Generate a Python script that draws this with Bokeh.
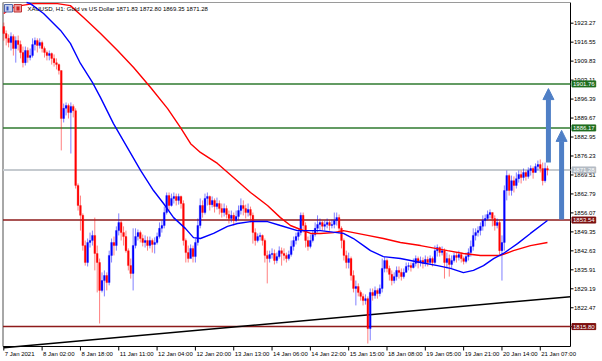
from bokeh.plotting import figure
from bokeh.models import Range1d, Label, Arrow, NormalHead, ColumnDataSource
from bokeh.core.properties import value
from bokeh.embed import file_html
from bokeh.resources import INLINE

# ---------------- data ----------------
first_open = 1922.1
closes = [
    1919.6, 1917.9, 1916.4, 1918.6, 1914.3, 1917.1, 1915.7, 1912.9, 1909.3, 1913.6,
    1911.1, 1911.8, 1915.7, 1917.1, 1915.4, 1916.4, 1914.3, 1912.9, 1911.8, 1912.5,
    1910.8, 1909.3, 1908.6, 1906.5, 1889.5, 1893.1, 1894.1, 1891.6, 1893.8, 1892.3,
    1865.8, 1858.7, 1855.2, 1844.5, 1838.5, 1845.6, 1846.3, 1848.1, 1841.7, 1838.5,
    1828.6, 1832.1, 1833.9, 1831.4, 1841.0, 1845.6, 1844.5, 1849.8, 1852.7, 1849.1,
    1847.7, 1842.7, 1837.4, 1834.6, 1844.5, 1847.7, 1849.1, 1847.0, 1845.6, 1846.3,
    1844.5, 1846.3, 1844.9, 1845.6, 1847.7, 1850.6, 1851.6, 1856.2, 1862.2, 1858.7,
    1861.2, 1861.9, 1860.5, 1861.9, 1859.4, 1846.3, 1842.0, 1839.9, 1843.5, 1840.6,
    1845.6, 1851.6, 1858.7, 1856.2, 1861.2, 1861.9, 1859.0, 1860.5, 1858.3, 1859.4,
    1857.6, 1856.2, 1857.6, 1855.5, 1854.1, 1855.2, 1853.4, 1854.8, 1856.9, 1858.7,
    1857.6, 1856.2, 1857.3, 1855.2, 1849.1, 1846.3, 1847.7, 1848.1, 1846.3, 1841.0,
    1839.9, 1841.3, 1841.7, 1839.2, 1840.6, 1842.7, 1841.7, 1841.0, 1839.9, 1841.3,
    1844.2, 1846.3, 1847.7, 1849.1, 1855.2, 1851.6, 1846.3, 1844.2, 1846.3, 1848.4,
    1850.6, 1852.0, 1852.7, 1851.3, 1852.0, 1852.7, 1851.6, 1852.0, 1853.4, 1854.4,
    1850.6, 1846.3, 1841.0, 1838.5, 1839.9, 1833.9, 1829.3, 1830.0, 1827.9, 1826.5,
    1825.0, 1825.7, 1815.1, 1827.9, 1826.8, 1828.6, 1827.5, 1829.3, 1836.4, 1839.2,
    1836.4, 1834.3, 1832.1, 1833.5, 1835.7, 1835.0, 1833.5, 1835.0, 1837.1, 1837.4,
    1836.7, 1838.2, 1839.9, 1838.5, 1839.2, 1838.2, 1839.6, 1838.5, 1839.9, 1838.5,
    1842.7, 1843.8, 1842.0, 1842.7, 1838.5, 1839.9, 1837.8, 1839.2, 1841.0, 1840.3,
    1841.3, 1839.9, 1838.9, 1840.6, 1842.0, 1844.2, 1848.1, 1849.1, 1849.8, 1851.3,
    1853.4, 1854.1, 1855.5, 1856.2, 1854.1, 1851.6, 1852.7, 1842.7, 1845.6, 1864.0,
    1869.3, 1864.0, 1867.5, 1865.8, 1868.2, 1869.7, 1868.6, 1870.4, 1869.0, 1871.1,
    1871.8, 1870.4, 1872.5, 1873.2, 1871.8, 1867.5, 1871.83, 1871.28,
]
highs = [
    1923.5, 1920.7, 1919.3, 1920.0, 1919.3, 1918.6, 1918.9, 1917.1, 1915.0, 1915.0,
    1914.7, 1914.3, 1917.9, 1918.2, 1917.9, 1917.9, 1917.1, 1915.0, 1913.6, 1913.6,
    1912.9, 1912.2, 1910.8, 1909.0, 1906.5, 1894.8, 1895.2, 1894.8, 1895.2, 1894.5,
    1893.1, 1866.5, 1862.2, 1855.9, 1846.3, 1847.0, 1849.1, 1849.8, 1854.4, 1844.5,
    1839.9, 1835.0, 1835.7, 1835.0, 1842.7, 1847.0, 1847.7, 1851.3, 1855.9, 1853.4,
    1851.3, 1849.8, 1843.5, 1839.9, 1850.6, 1850.6, 1850.2, 1849.8, 1848.4, 1848.1,
    1847.7, 1847.7, 1847.0, 1847.4, 1849.1, 1852.7, 1853.4, 1858.3, 1863.3, 1863.3,
    1862.9, 1863.3, 1862.9, 1862.9, 1862.2, 1860.5, 1847.0, 1844.5, 1844.9, 1844.5,
    1847.0, 1854.1, 1861.2, 1860.5, 1862.9, 1863.3, 1862.2, 1861.9, 1861.2, 1861.5,
    1860.5, 1859.4, 1859.4, 1858.7, 1856.9, 1856.9, 1856.2, 1856.9, 1858.7, 1861.2,
    1860.5, 1859.0, 1859.4, 1858.3, 1856.2, 1850.6, 1848.8, 1849.1, 1848.4, 1847.0,
    1842.7, 1842.7, 1843.5, 1843.1, 1842.0, 1844.2, 1843.8, 1843.5, 1842.0, 1842.7,
    1846.3, 1847.7, 1849.1, 1850.6, 1856.2, 1856.2, 1852.7, 1847.7, 1848.4, 1849.8,
    1852.7, 1855.2, 1854.1, 1853.4, 1853.4, 1854.1, 1853.4, 1853.7, 1856.2, 1856.2,
    1855.5, 1851.3, 1847.0, 1842.7, 1842.0, 1840.6, 1835.7, 1832.1, 1831.1, 1828.6,
    1827.5, 1827.2, 1826.5, 1829.3, 1829.3, 1830.0, 1829.3, 1830.7, 1839.9, 1840.6,
    1839.9, 1837.4, 1835.7, 1835.0, 1837.1, 1837.1, 1836.4, 1836.4, 1838.5, 1838.5,
    1838.5, 1839.9, 1841.0, 1840.6, 1840.6, 1840.3, 1841.0, 1840.6, 1841.0, 1840.6,
    1844.5, 1844.9, 1844.2, 1844.2, 1843.5, 1842.0, 1841.3, 1841.0, 1842.0, 1842.0,
    1842.7, 1842.0, 1840.6, 1842.0, 1843.5, 1846.3, 1850.6, 1850.6, 1851.3, 1852.7,
    1855.2, 1855.5, 1856.9, 1857.3, 1856.2, 1855.2, 1854.1, 1853.4, 1848.1, 1865.8,
    1871.1, 1870.0, 1869.3, 1869.0, 1870.4, 1871.1, 1871.1, 1871.8, 1871.1, 1872.2,
    1872.9, 1872.5, 1873.6, 1874.6, 1875.0, 1873.9, 1873.9, 1872.80,
]
lows = [
    1917.1, 1915.4, 1914.7, 1913.6, 1911.8, 1909.3, 1913.6, 1910.8, 1907.6, 1908.3,
    1909.3, 1910.1, 1911.1, 1913.6, 1912.9, 1914.3, 1912.9, 1911.1, 1910.1, 1910.1,
    1908.6, 1907.9, 1906.9, 1905.1, 1878.2, 1888.1, 1890.6, 1889.5, 1877.1, 1889.9,
    1864.7, 1856.9, 1849.8, 1842.7, 1837.4, 1837.1, 1843.8, 1844.5, 1835.7, 1827.9,
    1816.9, 1827.9, 1826.5, 1828.6, 1830.4, 1838.5, 1841.0, 1842.7, 1848.1, 1846.3,
    1844.5, 1842.0, 1835.7, 1832.8, 1828.6, 1843.5, 1846.3, 1845.6, 1844.2, 1843.8,
    1842.7, 1843.5, 1842.0, 1841.7, 1844.9, 1847.0, 1849.1, 1850.6, 1855.5, 1856.9,
    1858.3, 1859.4, 1858.7, 1859.0, 1857.6, 1844.5, 1838.5, 1838.5, 1840.6, 1838.5,
    1838.5, 1844.5, 1850.6, 1854.4, 1855.5, 1858.7, 1856.9, 1858.0, 1856.2, 1857.3,
    1855.5, 1854.4, 1854.8, 1854.1, 1852.3, 1852.7, 1851.6, 1852.7, 1853.4, 1855.5,
    1855.2, 1854.1, 1854.8, 1852.7, 1845.2, 1844.5, 1845.6, 1846.3, 1844.5, 1838.5,
    1831.1, 1838.5, 1839.9, 1837.8, 1838.2, 1839.9, 1837.4, 1839.2, 1838.5, 1839.2,
    1840.6, 1842.7, 1844.9, 1846.3, 1848.1, 1849.1, 1843.8, 1842.7, 1843.5, 1845.6,
    1847.7, 1849.1, 1849.8, 1849.8, 1849.8, 1850.6, 1849.8, 1850.6, 1850.6, 1851.6,
    1848.8, 1843.5, 1839.2, 1836.4, 1836.4, 1832.1, 1827.9, 1823.3, 1826.5, 1825.0,
    1823.3, 1823.6, 1809.8, 1810.9, 1825.0, 1825.7, 1825.7, 1826.5, 1827.9, 1835.0,
    1835.0, 1832.1, 1830.4, 1831.1, 1832.1, 1832.8, 1832.1, 1832.8, 1835.0, 1835.7,
    1835.3, 1836.4, 1837.1, 1836.4, 1837.1, 1836.4, 1837.1, 1837.1, 1837.8, 1837.1,
    1837.8, 1840.6, 1840.6, 1841.0, 1832.8, 1836.4, 1833.5, 1836.4, 1838.5, 1838.5,
    1839.2, 1838.5, 1837.8, 1838.2, 1839.2, 1840.6, 1842.7, 1846.3, 1847.7, 1848.1,
    1849.8, 1851.3, 1853.4, 1854.1, 1851.3, 1849.8, 1850.6, 1841.3, 1832.1, 1842.7,
    1860.5, 1862.2, 1862.2, 1863.3, 1864.7, 1866.8, 1866.5, 1867.5, 1867.5, 1868.2,
    1869.3, 1868.2, 1870.4, 1871.1, 1870.4, 1865.8, 1866.8, 1869.35,
]

# moving averages (sampled along the bar axis)
blue_ma_bar = [9.5, 11.1, 16.6, 23.7, 27.8, 32, 37, 40.4, 45.8, 51.6, 57.1, 62.5, 66.7,
               70.9, 75.9, 79.2, 82.1, 87.6, 93.4, 97.6, 103, 110.1, 115.5, 122.6,
               132.2, 141.8, 146, 150.2, 153.1, 158.5, 165.6, 174, 181.1, 186.5,
               191.9, 196.1, 200.3, 204.5, 208.6, 214.5, 219.9, 227]
blue_ma = [1930.6, 1930.2, 1926.7, 1920.7, 1916.1, 1909.0, 1902.3, 1896.9, 1887.7,
           1879.2, 1871.1, 1864.0, 1859.4, 1854.4, 1850.5, 1847.3, 1847.0, 1848.8,
           1851.3, 1852.3, 1853.0, 1853.0, 1851.6, 1849.8, 1849.8, 1848.8, 1847.0,
           1844.5, 1842.7, 1840.6, 1839.9, 1838.5, 1837.4, 1836.4, 1834.9, 1835.7,
           1837.4, 1839.9, 1841.7, 1845.2, 1848.8, 1853.4]
red_ma_bar = [0, 2.8, 7, 12.4, 22.4, 27.8, 33.3, 40.4, 47.5, 54.2, 61.3, 68.4, 73.8,
              78, 82.1, 89.2, 95.9, 103, 110.1, 115.5, 119.7, 123.9, 128.1, 132.2,
              137.7, 141.8, 146, 151.9, 158.5, 165.6, 174, 185.3, 191.9, 199, 207.4,
              212.8, 219.9, 227]
red_ma = [1926.7, 1928.5, 1929.5, 1930.2, 1930.2, 1929.5, 1925.3, 1919.6, 1913.6,
          1907.6, 1900.5, 1893.0, 1886.3, 1880.6, 1877.5, 1873.6, 1868.6, 1863.3,
          1858.7, 1854.4, 1851.6, 1850.2, 1848.8, 1848.8, 1849.1, 1849.8, 1849.1,
          1848.1, 1847.0, 1845.6, 1844.5, 1842.7, 1841.7, 1841.0, 1841.0, 1842.7,
          1844.5, 1845.6]

trend_bar = [0, 236.6]
trend_price = [1808.3, 1826.4]

levels = [1901.76, 1886.17, 1871.28, 1853.54, 1815.80]
level_labels = ["1901.76", "1886.17", "1871.28", "1853.54", "1815.80"]
level_colors = ["#2f7a2f", "#2f7a2f", "#c5cacf", "#8e1b1b", "#8e1b1b"]
level_widths = [1.5, 1.5, 2, 1.5, 1.5]
level_box_colors = ["#1f6e1f", "#1f6e1f", "#b4bcc4", "#7c1010", "#7c1010"]

arrow_bar = [227.4, 232.9]
arrow_from = [1873.9, 1853.7]
arrow_to = [1900.1, 1885.3]

ytick_values = [1815.75, 1822.47, 1829.19, 1835.91, 1842.63, 1849.35, 1856.07,
                1862.79, 1869.51, 1876.23, 1882.95, 1889.67, 1896.39, 1903.11,
                1909.83, 1916.55, 1923.27]
xtick_bars = [0, 16, 32, 48, 64, 80, 96, 112, 128, 144, 160, 176, 192, 208, 224]
xtick_labels = ["7 Jan 2021", "8 Jan 02:00", "8 Jan 18:00", "11 Jan 11:00",
                "12 Jan 04:00", "12 Jan 20:00", "13 Jan 13:00", "14 Jan 06:00",
                "14 Jan 22:00", "15 Jan 15:00", "18 Jan 08:00", "19 Jan 05:00",
                "19 Jan 21:00", "20 Jan 14:00", "21 Jan 07:00"]
header = "XAUUSD, H1:  Gold vs US Dollar  1871.83 1872.80 1869.35 1871.28"

# ---------------- layout helpers (screen px -> chart coordinates) ----------------
W, H = 602, 361
BAR0_PX, BAR_PX = 3.3, 2.395          # x pixel of bar 0, pixels per bar
PRICE_TOP, PRICE_PER_PX = 1931.31, 0.35423


def bx(px):
    return (px - BAR0_PX) / BAR_PX


def py(px):
    return PRICE_TOP - PRICE_PER_PX * px


FRAME_L, FRAME_R, FRAME_T, FRAME_B = 2.5, 570.0, 2.0, 346.0
FONT = "Liberation Sans"
UP, DOWN = "#0000ff", "#ff0000"

opens = [first_open] + closes[:-1]
idx = list(range(len(closes)))
colors = [UP if c >= o else DOWN for o, c in zip(opens, closes)]
src = ColumnDataSource(dict(
    x=idx, open=opens, close=closes, high=highs, low=lows,
    top=[max(o, c) for o, c in zip(opens, closes)],
    bottom=[min(o, c) for o, c in zip(opens, closes)],
    color=colors,
))

p = figure(width=W, height=H, output_backend="svg", toolbar_location=None,
           x_range=Range1d(bx(0), bx(W)), y_range=Range1d(py(H), py(0)),
           x_axis_location=None, y_axis_location=None,
           min_border=0, min_border_left=0, min_border_right=0,
           min_border_top=0, min_border_bottom=0)
p.grid.visible = False
p.outline_line_color = None
p.background_fill_color = "white"
p.border_fill_color = "white"

# ---- price axis (right) ----
p.segment(x0=[bx(FRAME_R)], y0=[py(FRAME_T)], x1=[bx(FRAME_R)], y1=[py(FRAME_B)],
          line_color="black", line_width=1)
p.segment(x0=[bx(FRAME_R)] * len(ytick_values), y0=ytick_values,
          x1=[bx(FRAME_R + 3)] * len(ytick_values), y1=ytick_values,
          line_color="black", line_width=1)
p.text(x=[bx(FRAME_R + 3.5)] * len(ytick_values), y=ytick_values,
       text=["%.2f" % v for v in ytick_values], text_font=value(FONT),
       text_font_size="6px", text_baseline="middle", text_align="left",
       text_color="black")

# ---- time axis (bottom) ----
p.segment(x0=[bx(FRAME_L)], y0=[py(FRAME_B)], x1=[bx(FRAME_R)], y1=[py(FRAME_B)],
          line_color="black", line_width=1)
p.segment(x0=xtick_bars, y0=[py(FRAME_B)] * len(xtick_bars),
          x1=xtick_bars, y1=[py(FRAME_B + 4)] * len(xtick_bars),
          line_color="black", line_width=1)
p.text(x=xtick_bars, y=[py(353.5)] * len(xtick_bars), text=xtick_labels,
       x_offset=1, text_font=value(FONT), text_font_size="6px",
       text_baseline="middle", text_align="left", text_color="black")

# ---- frame left / top edges ----
p.segment(x0=[bx(FRAME_L)], y0=[py(FRAME_T)], x1=[bx(FRAME_L)], y1=[py(FRAME_B)],
          line_color="#505050", line_width=1)
p.segment(x0=[bx(FRAME_L)], y0=[py(FRAME_T)], x1=[bx(FRAME_R)], y1=[py(FRAME_T)],
          line_color="#9a9a9a", line_width=1)

# ---- horizontal levels ----
p.segment(x0=[bx(FRAME_L)] * len(levels), y0=levels,
          x1=[bx(FRAME_R)] * len(levels), y1=levels,
          line_color=level_colors, line_width=level_widths)

# ---- trend line ----
p.line(trend_bar, trend_price, line_color="black", line_width=1.5)

# ---- candles ----
p.segment(x0="x", y0="low", x1="x", y1="high", source=src, line_color="color",
          line_alpha=0.5, line_width=1)
p.vbar(x="x", width=0.75, top="top", bottom="bottom", source=src,
       fill_color="color", line_color="color", line_width=0.3)

# ---- moving averages ----
p.line(red_ma_bar, red_ma, line_color="#ff0000", line_width=1.4)
p.line(blue_ma_bar, blue_ma, line_color="#0000ff", line_width=1.4)

# ---- arrows ----
AC = "#4f7fc6"
for xb, y0, y1 in zip(arrow_bar, arrow_from, arrow_to):
    p.add_layout(Arrow(end=NormalHead(size=11, fill_color=AC, line_color=AC,
                                      line_width=1),
                       x_start=xb, y_start=y0, x_end=xb, y_end=y1,
                       line_color=AC, line_width=5))

# ---- price boxes on the axis ----
for lv, t, c in zip(levels, level_labels, level_box_colors):
    p.add_layout(Label(x=bx(FRAME_R + 1.5), y=lv, text=t, text_align="left",
                       text_baseline="middle", text_font=FONT,
                       text_font_size="6px", text_color="white",
                       background_fill_color=c, border_line_color=c,
                       padding=1))

# ---- header icon + text ----
p.quad(left=[bx(4)], right=[bx(12)], top=[py(4)], bottom=[py(11.5)],
       fill_color="#c8d2ee", line_color="#5068a8", line_width=1)
p.quad(left=[bx(6)], right=[bx(8)], top=[py(6)], bottom=[py(10)],
       fill_color="#3050c0", line_color=None)
p.quad(left=[bx(13.5)], right=[bx(21)], top=[py(4)], bottom=[py(11.5)],
       fill_color="#f0a0a0", line_color="#c03030", line_width=1)
p.quad(left=[bx(16)], right=[bx(19)], top=[py(6)], bottom=[py(10)],
       fill_color="#d02020", line_color=None)
p.add_layout(Label(x=bx(27), y=py(8), text=header, text_align="left",
                   text_baseline="middle", text_font=FONT,
                   text_font_size="6px", text_color="black"))

open("out.html", "w").write(file_html(p, INLINE))
